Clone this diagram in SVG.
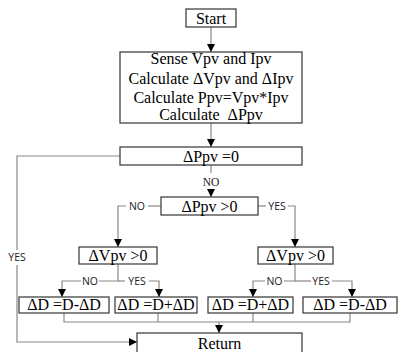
<svg xmlns="http://www.w3.org/2000/svg" width="398" height="352" viewBox="0 0 398 352">
  <defs>
    <marker id="arrow" viewBox="0 0 8 8" refX="8" refY="4" markerWidth="8" markerHeight="8" markerUnits="userSpaceOnUse" orient="auto">
      <path d="M0,0 L8,4 L0,8 Z" fill="#000"/>
    </marker>
    <style>
      .box { fill: #fff; stroke: #444; stroke-width: 1.3; }
      .t { font-family: "Liberation Serif", "Times New Roman", serif; font-size: 16px; fill: #000; text-anchor: middle; }
      .lbl { font-family: "Open Sans", "Liberation Sans", sans-serif; font-size: 10.5px; fill: #222; text-anchor: middle; }
      .lbls { font-family: "Liberation Serif", serif; font-size: 11.5px; fill: #222; text-anchor: middle; }
      .c { fill: none; stroke: #888; stroke-width: 1.2; }
      .a { marker-end: url(#arrow); }
    </style>
  </defs>
  <rect width="398" height="352" fill="#fff"/>

  <g id="connectors">
    <!-- start to process -->
    <path class="c a" d="M211,27 V52"/>
    <!-- process to zero test -->
    <path class="c a" d="M211,123 V147"/>
    <!-- zero test: NO branch -->
    <path class="c" d="M211,165 V173"/>
    <text class="lbls" x="211" y="185.5">NO</text>
    <path class="c a" d="M211,189 V197"/>
    <!-- zero test: YES branch to Return -->
    <path class="c" d="M120,156 H17 V250"/>
    <text class="lbl" x="17" y="261">YES</text>
    <path class="c a" d="M17,265 V342 H137"/>
    <!-- dP > 0 branches -->
    <path class="c" d="M161,206 H148"/>
    <text class="lbl" x="137" y="210">NO</text>
    <path class="c a" d="M126,206 H118 V247"/>
    <path class="c" d="M258,206 H266"/>
    <text class="lbl" x="277" y="210">YES</text>
    <path class="c a" d="M288,206 H295 V247"/>
    <!-- left dV > 0 branches -->
    <path class="c" d="M118,264 V281 H99"/>
    <text class="lbl" x="90" y="285">NO</text>
    <path class="c a" d="M81,281 H62 V297"/>
    <path class="c" d="M118,281 H125"/>
    <text class="lbl" x="137" y="285">YES</text>
    <path class="c a" d="M149,281 H159 V297"/>
    <!-- right dV > 0 branches -->
    <path class="c" d="M295,264 V281 H284"/>
    <text class="lbl" x="274.5" y="285">NO</text>
    <path class="c a" d="M265,281 H253 V297"/>
    <path class="c" d="M295,281 H311"/>
    <text class="lbl" x="321" y="285">YES</text>
    <path class="c a" d="M332,281 H352 V297"/>
    <!-- merge to Return -->
    <path class="c" d="M64,313 V322 H350 V313 M158,313 V322 M253,313 V322"/>
    <path class="c a" d="M219,322 V333"/>
  </g>

  <g id="start">
    <rect class="box" x="186" y="9" width="50" height="18"/>
    <text class="t" x="211" y="23.5">Start</text>
  </g>

  <g id="process">
    <rect class="box" x="120" y="52" width="182" height="71"/>
    <text class="t" x="211" y="64">Sense Vpv and Ipv</text>
    <text class="t" x="211" y="84">Calculate ΔVpv and ΔIpv</text>
    <text class="t" x="211" y="103">Calculate Ppv=Vpv*Ipv</text>
    <text class="t" x="211" y="120">Calculate &#160;ΔPpv</text>
  </g>

  <g id="dp-zero">
    <rect class="box" x="120" y="147" width="182" height="18"/>
    <text class="t" x="211" y="161.5">ΔPpv =0</text>
  </g>

  <g id="dp-positive">
    <rect class="box" x="161" y="197" width="97" height="18"/>
    <text class="t" x="209.5" y="211.5">ΔPpv &gt;0</text>
  </g>

  <g id="dv-left">
    <rect class="box" x="79" y="247" width="78" height="17"/>
    <text class="t" x="118" y="261">ΔVpv &gt;0</text>
  </g>

  <g id="dv-right">
    <rect class="box" x="258" y="247" width="75" height="17"/>
    <text class="t" x="295.5" y="261">ΔVpv &gt;0</text>
  </g>

  <g id="d-dec-1">
    <rect class="box" x="19" y="297" width="90" height="16"/>
    <text class="t" x="64" y="310">ΔD =D-ΔD</text>
  </g>

  <g id="d-inc-1">
    <rect class="box" x="115" y="297" width="82" height="16"/>
    <text class="t" x="156" y="310">ΔD =D+ΔD</text>
  </g>

  <g id="d-inc-2">
    <rect class="box" x="208" y="297" width="85" height="16"/>
    <text class="t" x="250.5" y="310">ΔD =D+ΔD</text>
  </g>

  <g id="d-dec-2">
    <rect class="box" x="303" y="297" width="94" height="16"/>
    <text class="t" x="350" y="310">ΔD =D-ΔD</text>
  </g>

  <g id="return">
    <rect class="box" x="137" y="333" width="165" height="24"/>
    <text class="t" x="219.5" y="349">Return</text>
  </g>
</svg>
